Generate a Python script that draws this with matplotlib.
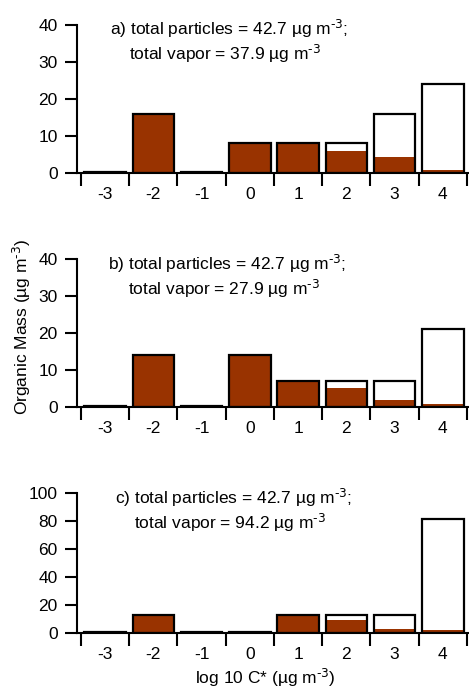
import matplotlib
matplotlib.use('Agg')
import matplotlib.pyplot as plt
from matplotlib.ticker import FixedLocator, NullFormatter, FixedFormatter

plt.rcParams['font.family'] = ['Liberation Sans', 'DejaVu Sans']
plt.rcParams['mathtext.default'] = 'regular'
plt.rcParams['font.size'] = 12

# volatility bins (log10 C*)
bins = [-3, -2, -1, 0, 1, 2, 3, 4]

# total organic mass per bin (particle + vapor), ug m-3
total_a = [0.3, 16.0, 0.3, 8.0, 8.0, 8.0, 16.0, 24.0]
total_b = [0.3, 14.0, 0.3, 14.0, 7.0, 7.0, 7.0, 21.0]
total_c = [0.6, 13.0, 0.6, 0.6, 13.0, 13.0, 13.0, 81.5]

# particle phase part of each bin
part_a = [0.3, 16.0, 0.3, 8.0, 8.0, 5.8, 4.2, 0.8]
part_b = [0.3, 14.0, 0.3, 14.0, 6.8, 5.0, 1.8, 0.7]
part_c = [0.6, 13.0, 0.6, 0.6, 13.0, 9.5, 3.0, 2.3]

sup = r'$^{\text{-3}}$'
labels_1 = ['a) total particles = 42.7 µg m' + sup + ';',
            'b) total particles = 42.7 µg m' + sup + ';',
            'c) total particles = 42.7 µg m' + sup + ';']
labels_2 = ['total vapor = 37.9 µg m' + sup,
            'total vapor = 27.9 µg m' + sup,
            'total vapor = 94.2 µg m' + sup]

ylims = [40, 40, 100]
yticks = [[0, 10, 20, 30, 40], [0, 10, 20, 30, 40], [0, 20, 40, 60, 80, 100]]

brown = '#993300'
W, H = 469, 691

fig = plt.figure(figsize=(W / 100, H / 100), dpi=100)

# axes boxes in pixels: (left, top, right, bottom)
boxes = [(77, 25, 468, 172.7), (77, 259.3, 468, 406.7), (77, 492.7, 468, 633.3)]
# text anchor positions in pixels (x, y center)
txt1 = [(110, 29), (108, 264), (115, 498)]
txt2 = [(129, 54), (128, 289), (134, 523)]

totals = [total_a, total_b, total_c]
parts = [part_a, part_b, part_c]

for i in range(3):
    l, t, r, b = boxes[i]
    ax = fig.add_axes([l / W, 1 - b / H, (r - l) / W, (b - t) / H])
    ax.bar(bins, totals[i], width=0.86, color='white', zorder=1)
    ax.bar(bins, parts[i], width=0.86, color=brown, zorder=2)
    ax.bar(bins, totals[i], width=0.86, fill=False, edgecolor='black',
           linewidth=1.6, zorder=3)

    ax.set_xlim(-3.58, 4.52)
    ax.set_ylim(0, ylims[i])
    ax.set_yticks(yticks[i])

    edges = [x - 0.5 for x in bins] + [bins[-1] + 0.5]
    ax.xaxis.set_major_locator(FixedLocator(edges))
    ax.xaxis.set_major_formatter(NullFormatter())
    ax.xaxis.set_minor_locator(FixedLocator(bins))
    ax.xaxis.set_minor_formatter(FixedFormatter([str(x) for x in bins]))
    ax.tick_params(axis='x', which='major', length=9, width=1.5, direction='out')
    ax.tick_params(axis='x', which='minor', length=0, pad=10, labelsize=12.5)
    ax.tick_params(axis='y', length=9, width=1.5, direction='out', pad=5, labelsize=12.5)

    for s in ['top', 'right']:
        ax.spines[s].set_visible(False)
    for s in ['left', 'bottom']:
        ax.spines[s].set_linewidth(1.5)
    ax.patch.set_visible(False)

    fig.text(txt1[i][0] / W, 1 - txt1[i][1] / H, labels_1[i], ha='left', va='center', fontsize=12.5)
    fig.text(txt2[i][0] / W, 1 - txt2[i][1] / H, labels_2[i], ha='left', va='center', fontsize=12.5)

fig.text(22 / W, 1 - 327 / H, 'Organic Mass (µg m' + sup + ')', rotation=90,
         ha='center', va='center', fontsize=12.5)
fig.text(265 / W, 1 - 678 / H, 'log 10 C* (µg m' + sup + ')', ha='center', va='center', fontsize=12.5)

fig.savefig('out.png', dpi=100)
